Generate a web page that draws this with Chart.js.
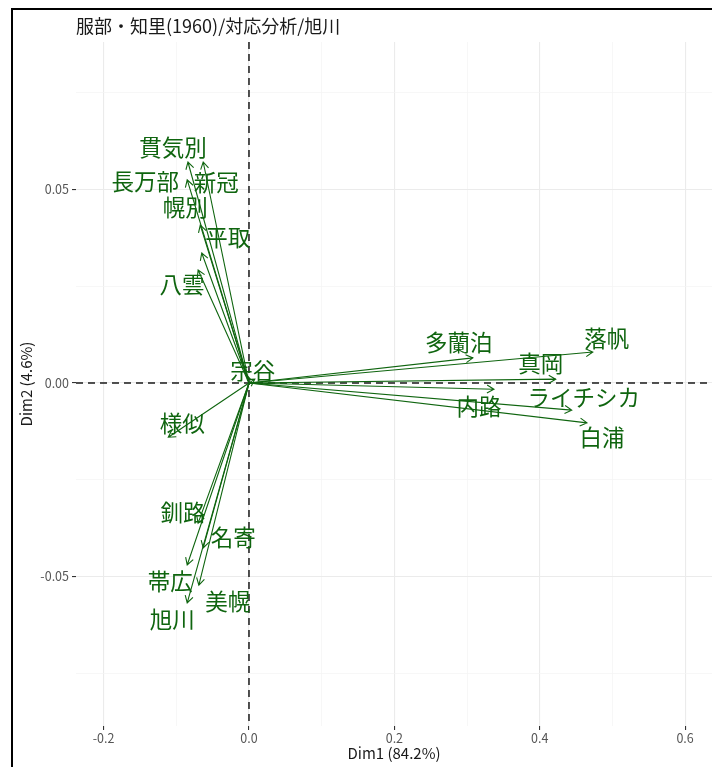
<!DOCTYPE html>
<html lang="ja">
<head>
<meta charset="UTF-8">
<title>服部・知里(1960)/対応分析/旭川</title>
<script src="https://cdn.jsdelivr.net/npm/chart.js"></script>
<style>
  html, body { margin: 0; padding: 0; background: #fff; }
</style>
</head>
<body>
<canvas id="caChart" width="712" height="767"></canvas>
<script>
// 方言の座標 (Dim1, Dim2)
const dialects = ['貫気別', '新冠', '長万部', '幌別', '平取', '八雲', '宗谷',
                  '様似', '釧路', '名寄', '帯広', '美幌', '旭川',
                  '多蘭泊', '落帆', '真岡', '内路', 'ライチシカ', '白浦'];
const dim1 = [-0.084, -0.063, -0.085, -0.067, -0.065, -0.070, 0.008,
              -0.111, -0.070, -0.063, -0.085, -0.069, -0.085,
              0.308, 0.473, 0.422, 0.337, 0.444, 0.465];
const dim2 = [0.0571, 0.0571, 0.0525, 0.0408, 0.0336, 0.0292, 0.0010,
              -0.0140, -0.0362, -0.0426, -0.0470, -0.0522, -0.0568,
              0.0065, 0.0080, 0.0010, -0.0016, -0.0070, -0.0103];

const xTicks = [-0.2, -0.1, 0, 0.1, 0.2, 0.3, 0.4, 0.5, 0.6];
const xMajor = [-0.2, 0, 0.2, 0.4, 0.6];
const yTicks = [-0.075, -0.05, -0.025, 0, 0.025, 0.05, 0.075];
const yMajor = [-0.05, 0, 0.05];

// ラベルのずらし (px) — ggrepel っぽく
const labelDx = [-15, 13, -42, -15, 26, -16, -2,
                 14, -15, 30, -17, 29, -15,
                 -14, 14, -15, -15, 12, 15];
const labelDy = [-15, 20, 2, -18, -16, 14, -9,
                 -14, -11, -10, 16, 16, 17,
                 -15, -14, -16, 17, -13, 15];

const green = '#0f650f';
const jpFont = '"Noto Sans CJK JP", "Noto Sans", sans-serif';

const isMajor = (list, v) => list.some(m => Math.abs(m - v) < 1e-9);

// 原点の破線・矢印・ラベル・タイトル
const biplot = {
  id: 'biplot',
  beforeDraw(chart) {
    const c = chart.ctx;
    c.save();
    c.fillStyle = '#fff';
    c.fillRect(0, 0, chart.width, chart.height);
    c.restore();
  },
  beforeDatasetsDraw(chart) {
    const { ctx: c, chartArea: a, scales } = chart;
    const x0 = scales.x.getPixelForValue(0);
    const y0 = scales.y.getPixelForValue(0);
    c.save();
    c.strokeStyle = '#1a1a1a';
    c.lineWidth = 1.5;
    c.setLineDash([7, 5]);
    c.beginPath();
    c.moveTo(x0, a.top); c.lineTo(x0, a.bottom);
    c.moveTo(a.left, y0); c.lineTo(a.right, y0);
    c.stroke();
    c.restore();
  },
  afterDatasetsDraw(chart) {
    const { ctx: c, scales } = chart;
    const x0 = scales.x.getPixelForValue(0);
    const y0 = scales.y.getPixelForValue(0);
    const pts = chart.getDatasetMeta(0).data;
    c.save();
    c.strokeStyle = green;
    c.lineWidth = 1.1;
    pts.forEach(p => {
      const ang = Math.atan2(p.y - y0, p.x - x0);
      const len = 8, spread = Math.PI / 6;
      c.beginPath();
      c.moveTo(x0, y0); c.lineTo(p.x, p.y);
      c.moveTo(p.x - len * Math.cos(ang - spread), p.y - len * Math.sin(ang - spread));
      c.lineTo(p.x, p.y);
      c.lineTo(p.x - len * Math.cos(ang + spread), p.y - len * Math.sin(ang + spread));
      c.stroke();
    });
    c.fillStyle = green;
    c.font = '22.5px ' + jpFont;
    c.textAlign = 'center';
    c.textBaseline = 'middle';
    pts.forEach((p, i) => {
      c.fillText(dialects[i], p.x + labelDx[i], p.y + labelDy[i]);
    });
    c.restore();
  },
  afterDraw(chart) {
    const { ctx: c, chartArea: a } = chart;
    c.save();
    c.fillStyle = '#1a1a1a';
    c.font = '18px ' + jpFont;
    c.textAlign = 'left';
    c.textBaseline = 'middle';
    c.fillText('服部・知里(1960)/対応分析/旭川', a.left, 26);
    // 外枠 (左と上)
    c.strokeStyle = '#000';
    c.lineWidth = 2;
    c.beginPath();
    c.moveTo(12, chart.height); c.lineTo(12, 9); c.lineTo(chart.width, 9);
    c.stroke();
    c.restore();
  }
};

new Chart(document.getElementById('caChart'), {
  type: 'scatter',
  data: {
    datasets: [{
      data: dim1.map((x, i) => ({ x: x, y: dim2[i] })),
      pointRadius: 0,
      pointHoverRadius: 0
    }]
  },
  options: {
    responsive: false,
    animation: false,
    layout: { padding: { top: 42, right: 0, bottom: 0, left: 0 } },
    plugins: { legend: { display: false }, tooltip: { enabled: false } },
    scales: {
      x: {
        min: -0.238, max: 0.637,
        afterBuildTicks: s => { s.ticks = xTicks.map(v => ({ value: v })); },
        afterFit: s => { s.height = 41; },
        border: { display: false },
        grid: {
          color: ctx => isMajor(xMajor, ctx.tick.value) ? '#ebebeb' : '#f3f3f3',
          lineWidth: ctx => isMajor(xMajor, ctx.tick.value) ? 1.1 : 0.7,
          tickColor: ctx => isMajor(xMajor, ctx.tick.value) ? '#333' : 'rgba(0,0,0,0)',
          tickLength: 4
        },
        ticks: {
          autoSkip: false, maxRotation: 0, padding: 1,
          color: '#555',
          font: { family: jpFont, size: 12.5 },
          callback: v => isMajor(xMajor, v) ? v.toFixed(1) : ''
        },
        title: {
          display: true, text: 'Dim1 (84.2%)', color: '#1a1a1a',
          font: { family: jpFont, size: 15 },
          padding: { top: 0, bottom: 5 }
        }
      },
      y: {
        min: -0.0886, max: 0.0881,
        afterBuildTicks: s => { s.ticks = yTicks.map(v => ({ value: v })); },
        afterFit: s => { s.width = 76; },
        border: { display: false },
        grid: {
          color: ctx => isMajor(yMajor, ctx.tick.value) ? '#ebebeb' : '#f3f3f3',
          lineWidth: ctx => isMajor(yMajor, ctx.tick.value) ? 1.1 : 0.7,
          tickColor: ctx => isMajor(yMajor, ctx.tick.value) ? '#333' : 'rgba(0,0,0,0)',
          tickLength: 4
        },
        ticks: {
          autoSkip: false, padding: 3,
          color: '#555',
          font: { family: jpFont, size: 12.5 },
          callback: v => isMajor(yMajor, v) ? v.toFixed(2) : ''
        },
        title: {
          display: true, text: 'Dim2 (4.6%)', color: '#1a1a1a',
          font: { family: jpFont, size: 15 },
          padding: { top: 17, bottom: 0 }
        }
      }
    }
  },
  plugins: [biplot]
});
</script>
</body>
</html>
